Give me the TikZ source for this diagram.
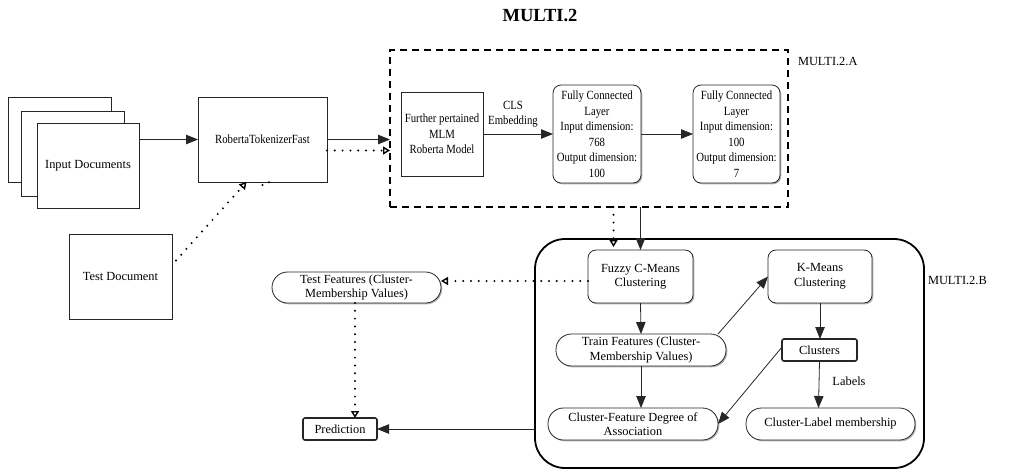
\documentclass[tikz,border=0pt]{standalone}
\usepackage{fontspec}
\setmainfont{Liberation Serif}
\newfontfamily\narrowserif[FakeStretch=0.86]{Liberation Serif}
\usetikzlibrary{arrows.meta,shadows,calc}
\tikzset{
  base/.style={draw=black!85, line width=0.8pt, inner sep=0pt, outer sep=0pt, align=center,
    font=\fontsize{12.4}{14.5}\selectfont, fill=white},
  sqbox/.style={base, rectangle},
  narrowtxt/.style={font=\narrowserif\fontsize{12.5}{15.5}\selectfont},
  rbox/.style={base, rounded corners=8pt,
    drop shadow={shadow xshift=1.3pt, shadow yshift=-1.3pt, opacity=0.3, fill=black}},
  pill/.style={base, rounded corners=15.5pt,
    drop shadow={shadow xshift=1.3pt, shadow yshift=-1.3pt, opacity=0.3, fill=black}},
  tbox/.style={base, line width=1.6pt, rounded corners=2pt},
  lbl/.style={inner sep=0pt, outer sep=0pt, font=\fontsize{12.4}{14.5}\selectfont, align=center},
  arr/.style={draw=black!85, line width=0.8pt, -{Triangle[length=12pt,width=9.5pt]}},
  dotarr/.style={draw=black, line width=2.2pt, line cap=round, dash pattern=on 0pt off 7.8pt,
    -{Triangle[open,length=7pt,width=8pt,line width=1.4pt]}},
  dotline/.style={draw=black, line width=2.2pt, line cap=round, dash pattern=on 0pt off 7pt}
}
\begin{document}
\begin{tikzpicture}[x=1pt,y=-1pt]
\useasboundingbox (0,0) rectangle (1009,472);
% title
\node[lbl, font=\bfseries\fontsize{18.5}{20}\selectfont] (title) at (540,16) {MULTI.2};
% input documents stack
\node[sqbox, minimum width=103pt, minimum height=85pt] (doc3) at (59.5,139.5) {};
\node[sqbox, minimum width=103pt, minimum height=85pt] (doc2) at (72.5,153.5) {};
\node[sqbox, minimum width=102pt, minimum height=85pt] (doc1) at (88,165.5) {Input Documents};
\node[sqbox, minimum width=129pt, minimum height=85pt, narrowtxt] (tok) at (262.5,139.5) {RobertaTokenizerFast};
\node[sqbox, minimum width=103pt, minimum height=85pt] (test) at (120.5,276.5) {Test Document};
% MULTI.2.A
\node[draw=black, line width=1.7pt, dash pattern=on 7pt off 5pt, minimum width=398pt, minimum height=157pt,
  inner sep=0pt, outer sep=0pt] (A) at (589,128.5) {};
\node[lbl, anchor=west] (Alab) at (798,61) {MULTI.2.A};
\node[sqbox, narrowtxt, minimum width=82pt, minimum height=84pt] (rob) at (442,134) {Further pertained\\MLM\\Roberta Model};
\node[rbox, narrowtxt, minimum width=88pt, minimum height=98pt] (fc1) at (597,134)
  {Fully Connected\\Layer\\Input dimension:\\768\\Output dimension:\\100};
\node[rbox, narrowtxt, minimum width=87pt, minimum height=98pt] (fc2) at (736.5,134)
  {Fully Connected\\Layer\\Input dimension:\\100\\Output dimension:\\7};
\node[lbl, narrowtxt] (cls) at (513,114) {CLS\\Embedding};
% MULTI.2.B
\node[draw=black, line width=1.8pt, rounded corners=30pt, minimum width=389pt, minimum height=229pt,
  inner sep=0pt, outer sep=0pt] (B) at (729.5,353.5) {};
\node[lbl, anchor=west] (Blab) at (928,280) {MULTI.2.B};
\node[rbox, minimum width=105pt, minimum height=53pt] (fuzzy) at (640.5,276.5) {Fuzzy C-Means\\Clustering};
\node[rbox, minimum width=104pt, minimum height=53pt] (kmeans) at (820,276.5) {K-Means\\Clustering};
\node[pill, minimum width=170pt, minimum height=32pt] (train) at (641,350) {Train Features (Cluster-\\Membership Values)};
\node[tbox, minimum width=75pt, minimum height=22pt] (clusters) at (819.5,350) {Clusters};
\node[pill, minimum width=170pt, minimum height=32pt] (cf) at (633,424) {Cluster-Feature Degree of\\Association};
\node[pill, minimum width=169pt, minimum height=32pt] (cl) at (830.5,424) {Cluster-Label membership};
\node[pill, minimum width=169pt, minimum height=31pt] (testf) at (356.5,287.5) {Test Features (Cluster-\\Membership Values)};
\node[tbox, minimum width=74pt, minimum height=22pt] (pred) at (340,429) {Prediction};
% connectors
\draw[arr] (doc1.east |- tok.west) -- (tok.west);
\draw[arr] (tok.east) -- (tok.east -| A.west);
\coordinate (tokd) at ([yshift=-11pt]tok.east);
\draw[dotarr] (tokd) -- (tokd -| A.west);
\coordinate (tests) at ([shift={(4pt,16pt)}]test.east);
\draw[dotarr] (tests) -- ([xshift=-16pt]tok.south);
\draw[dotline] ([shift={(0pt,-3pt)}]tok.south) -- ([xshift=7pt]tok.south);
\draw[arr] (rob.east) -- (fc1.west);
\draw[arr] (fc1.east) -- (fc2.west);
\draw[arr] (A.south -| fuzzy.north) -- (fuzzy.north);
\coordinate (fzd) at ([xshift=-27pt]fuzzy.north);
\draw[dotarr] (fzd |- A.south) -- ([yshift=3pt]fzd);
\draw[arr] (fuzzy.south) -- (train.north);
\draw[arr] (train.south) -- (train.south |- cf.north);
\draw[arr] ([xshift=-8pt]train.north east) -- (kmeans.west);
\draw[arr] (kmeans.south) -- (kmeans.south |- clusters.north);
\draw[arr] (clusters.south) -- ([xshift=-12pt]cl.north);
\node[lbl, fill=white] (labtxt) at (849,381) {Labels};
\draw[arr] ([yshift=3pt]clusters.west) -- (cf.east);
\coordinate (fzw) at ([yshift=-4.5pt]fuzzy.west);
\draw[dotarr] (fzw) -- (fzw -| testf.east);
\draw[dotarr] ([xshift=-1.5pt]testf.south) -- ([xshift=-1.5pt]testf.south |- pred.north);
\draw[arr] (B.west |- pred.east) -- (pred.east);
\end{tikzpicture}
\end{document}
